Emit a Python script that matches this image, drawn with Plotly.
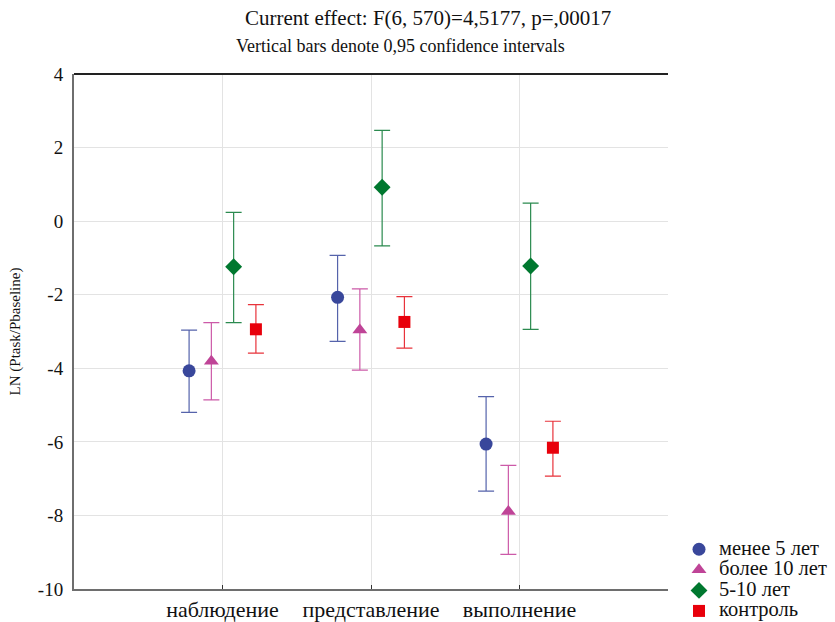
import plotly.graph_objects as go

categories = ["наблюдение", "представление", "выполнение"]
groups = ["менее 5 лет", "более 10 лет", "5-10 лет", "контроль"]

mean_less5 = [-4.07, -2.07, -6.06]
upper_less5 = [-2.96, -0.93, -4.77]
lower_less5 = [-5.20, -3.27, -7.34]

mean_more10 = [-3.81, -2.96, -7.89]
upper_more10 = [-2.76, -1.84, -6.64]
lower_more10 = [-4.86, -4.05, -9.06]

mean_5to10 = [-1.24, 0.92, -1.22]
upper_5to10 = [0.24, 2.47, 0.49]
lower_5to10 = [-2.76, -0.67, -2.94]

mean_ctrl = [-2.94, -2.74, -6.16]
upper_ctrl = [-2.27, -2.05, -5.44]
lower_ctrl = [-3.59, -3.45, -6.93]

y_ticks = [4, 2, 0, -2, -4, -6, -8, -10]
y_tick_labels = ["4", "2", "0", "-2", "-4", "-6", "-8", "-10"]

series = [
    (groups[0], mean_less5, upper_less5, lower_less5, -0.225, "circle", "#39479b", "#5563ab", 13),
    (groups[1], mean_more10, upper_more10, lower_more10, -0.075, "triangle-up", "#bf4497", "#cc5aa8", 13),
    (groups[2], mean_5to10, upper_5to10, lower_5to10, 0.075, "diamond", "#00782f", "#2b8a4f", 13),
    (groups[3], mean_ctrl, upper_ctrl, lower_ctrl, 0.225, "square", "#e8000b", "#e8333b", 12),
]

fig = go.Figure()
for name, m, up, lo, off, sym, col, ecol, size in series:
    xs = [i + 1 + off for i in range(len(categories))]
    fig.add_trace(go.Scatter(
        x=xs, y=m, mode="markers",
        name="<span style='font-size:20.5px'>" + name + "</span>",
        marker=dict(symbol=sym, size=size, color=col, line=dict(width=0)),
        error_y=dict(type="data", symmetric=False,
                     array=[u - v for u, v in zip(up, m)],
                     arrayminus=[v - l for v, l in zip(m, lo)],
                     color=ecol, thickness=1.2, width=8),
    ))

font_family = "Liberation Serif"
L, R, T, B = 74, 167, 74, 33
W, H = 835, 622
pw = W - L - R
ph = H - T - B

def px_x(px):
    return (px - L) / pw

def px_y(py):
    return (H - B - py) / ph

fig.update_layout(
    width=W, height=H,
    margin=dict(l=L, r=R, t=T, b=B, pad=0, autoexpand=False),
    plot_bgcolor="white", paper_bgcolor="white",
    font=dict(family=font_family, color="#111111"),
    showlegend=True,
    legend=dict(xref="container", yref="container", x=679 / W, y=1 - 534 / H,
                xanchor="left", yanchor="top",
                font=dict(size=13.5, family=font_family, color="#111111"),
                bgcolor="rgba(0,0,0,0)", borderwidth=0,
                itemwidth=30, tracegroupgap=0),
    xaxis=dict(range=[0, 4], tickmode="array", tickvals=[1, 2, 3], ticktext=categories,
               showgrid=True, gridcolor="#e3e3e3", gridwidth=1, automargin=False,
               showline=True, linecolor="#6e6e6e", linewidth=2, mirror=False,
               ticks="inside", ticklen=4, tickcolor="#333333",
               tickfont=dict(size=22, family=font_family), zeroline=False),
    yaxis=dict(range=[-10, 4], tickmode="array", tickvals=y_ticks, ticktext=y_tick_labels,
               showgrid=True, gridcolor="#e3e3e3", gridwidth=1, automargin=False,
               showline=True, linecolor="#6e6e6e", linewidth=2, mirror=False,
               ticks="", ticklen=4, ticklabelstandoff=5,
               tickfont=dict(size=19, family=font_family), zeroline=False,
               title=dict(text="LN (Ptask/Pbaseline)", font=dict(size=15, family=font_family), standoff=14)),
    annotations=[
        dict(text="Current effect: F(6, 570)=4,5177, p=,00017", xref="paper", yref="paper",
             x=px_x(428), y=px_y(18), xanchor="center", yanchor="middle", showarrow=False,
             font=dict(size=21, family=font_family, color="#111111")),
        dict(text="Vertical bars denote 0,95 confidence intervals", xref="paper", yref="paper",
             x=px_x(400), y=px_y(46), xanchor="center", yanchor="middle", showarrow=False,
             font=dict(size=18, family=font_family, color="#111111")),
    ],
    shapes=[
        dict(type="line", xref="paper", yref="paper", x0=0, x1=1, y0=1, y1=1,
             line=dict(color="#222222", width=2)),
    ],
)

fig.write_html("out.html")
